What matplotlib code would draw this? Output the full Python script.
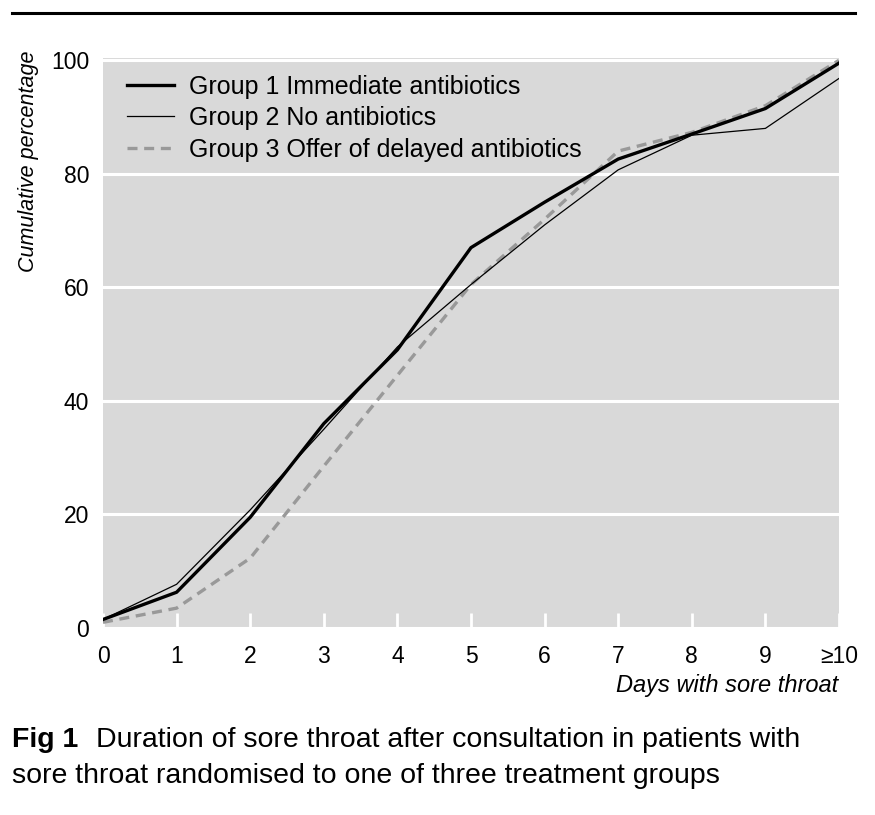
import numpy as np
import matplotlib.pyplot as plt
from matplotlib.lines import Line2D

plt.rcParams["font.family"] = ["Liberation Sans", "DejaVu Sans"]

days = [0, 1, 2, 3, 4, 5, 6, 7, 8, 9, 10]
day_labels = ["0", "1", "2", "3", "4", "5", "6", "7", "8", "9", "\u226510"]

group1 = [1.5, 6.3, 19.5, 36.0, 49.0, 67.0, 75.0, 82.6, 87.0, 91.5, 99.5]
group2 = [1.5, 7.7, 20.8, 35.0, 49.5, 60.5, 71.0, 80.7, 86.8, 88.0, 96.8]
group3 = [1.0, 3.5, 12.3, 28.5, 44.5, 60.5, 72.0, 84.0, 87.3, 92.0, 100.0]

fig = plt.figure(figsize=(8.75, 8.15), dpi=100)
ax = fig.add_axes([103/875, 1 - 628/815, 736/875, 570/815])
ax.set_facecolor("#d9d9d9")

ax.plot(days, group1, color="black", lw=2.4, label="Group 1 Immediate antibiotics", zorder=4)
ax.plot(days, group2, color="black", lw=0.9, label="Group 2 No antibiotics", zorder=3)
ax.plot(days, group3, color="#999999", lw=2.4, ls=(0, (3, 2)),
        label="Group 3 Offer of delayed antibiotics", zorder=2)

ax.set_xlim(0, 10)
ax.set_ylim(0, 100.4)
for s in ax.spines.values():
    s.set_visible(False)

ax.set_yticks([0, 20, 40, 60, 80, 100])
ax.set_yticklabels(["0", "20", "40", "60", "80", "100"], fontsize=16.5)
ax.set_xticks(days)
ax.set_xticklabels(day_labels, fontsize=16.5)
ax.tick_params(axis="y", length=0, pad=10)
ax.tick_params(axis="x", direction="in", color="white", length=11, width=2, pad=12)
ax.grid(axis="y", color="white", lw=2.2)
ax.set_axisbelow(True)

fig.text(838/875, 1 - 692/815, "Days with sore throat", fontsize=17, style="italic",
         ha="right", va="baseline")
fig.text(29/875, 1 - 50/815, "Cumulative percentage", fontsize=15.5, style="italic",
         rotation=90, ha="center", va="top")

ax.legend(loc="upper left", bbox_to_anchor=(0.0326, 0.971), frameon=False, fontsize=18,
          handlelength=1.9, handletextpad=0.6, labelspacing=0.3, borderpad=0, borderaxespad=0)

# top rule
fig.add_artist(Line2D([12/875, 855/875], [1 - 13/815, 1 - 13/815], color="black", lw=2.2))

# caption
t = fig.text(12/875, 1 - 747/815, "Fig 1", fontsize=20.5, fontweight="bold", va="baseline")
ax.annotate("Duration of sore throat after consultation in patients with", xy=(1, 0),
            xycoords=t, xytext=(13, 0), textcoords="offset points",
            fontsize=20.5, va="bottom", ha="left")
fig.text(12/875, 1 - 783/815, "sore throat randomised to one of three treatment groups",
         fontsize=20.5, va="baseline")

fig.savefig("out.png", dpi=100)
